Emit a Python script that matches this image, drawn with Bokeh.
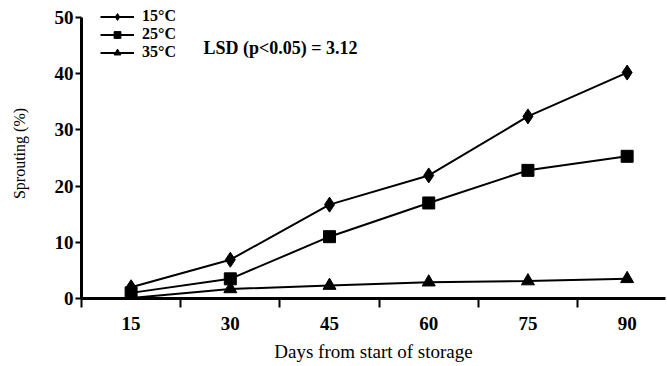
from bokeh.plotting import figure
from bokeh.models import FixedTicker, Range1d, Legend, LegendItem, Label
from bokeh.embed import file_html
from bokeh.resources import INLINE

days = [15, 30, 45, 60, 75, 90]
sprout_15 = [2.0, 6.9, 16.7, 21.9, 32.4, 40.2]
sprout_25 = [1.0, 3.5, 11.0, 17.0, 22.8, 25.3]
sprout_35 = [0.1, 1.7, 2.3, 2.9, 3.1, 3.5]
series_names = ["15°C", "25°C", "35°C"]
y_ticks = [0, 10, 20, 30, 40, 50]
x_boundaries = [7.5, 22.5, 37.5, 52.5, 67.5, 82.5]
lsd_text = "LSD (p<0.05) = 3.12"

FONT = "Liberation Serif"

p = figure(width=667, height=366, output_backend="svg", toolbar_location=None,
           x_range=Range1d(7.5, 95.8), y_range=Range1d(0, 51.6),
           min_border_left=81, min_border_right=2, min_border_top=8, min_border_bottom=68)
p.outline_line_color = None
p.xgrid.visible = False
p.ygrid.visible = False
p.background_fill_color = "white"

r1l = p.line(days, sprout_15, line_color="black", line_width=2)
r1m = p.scatter(days, sprout_15, marker="diamond", size=15, color="black")
r2l = p.line(days, sprout_25, line_color="black", line_width=2)
r2m = p.scatter(days, sprout_25, marker="square", size=12, color="black")
r3l = p.line(days, sprout_35, line_color="black", line_width=2)
r3m = p.scatter(days, sprout_35, marker="triangle", size=13, color="black")

# axes
p.xaxis.ticker = FixedTicker(ticks=days, minor_ticks=x_boundaries)
p.xaxis.major_tick_out = 0
p.xaxis.major_tick_in = 0
p.xaxis.minor_tick_out = 9
p.xaxis.minor_tick_in = 0
p.xaxis.minor_tick_line_width = 2
p.xaxis.minor_tick_line_color = "black"
p.xaxis.axis_line_width = 3
p.xaxis.major_label_standoff = 9
p.xaxis.axis_label = "Days from start of storage"
p.xaxis.axis_label_standoff = 8

p.yaxis.ticker = FixedTicker(ticks=y_ticks, minor_ticks=[])
p.yaxis.bounds = (0, 50)
p.yaxis.major_tick_out = 6
p.yaxis.major_tick_in = 0
p.yaxis.major_tick_line_width = 2
p.yaxis.axis_line_width = 3
p.yaxis.major_label_standoff = 2
p.yaxis.axis_label = "Sprouting (%)"
p.yaxis.axis_label_standoff = 24

for ax in (p.xaxis[0], p.yaxis[0]):
    ax.axis_line_color = "black"
    ax.major_tick_line_color = "black"
    ax.major_label_text_font = FONT
    ax.major_label_text_font_style = "bold"
    ax.major_label_text_font_size = "19px"
    ax.major_label_text_color = "black"
    ax.axis_label_text_font = FONT
    ax.axis_label_text_font_style = "normal"
    ax.axis_label_text_color = "black"
p.xaxis.axis_label_text_font_size = "19px"
p.yaxis.axis_label_text_font_size = "16px"

legend = Legend(items=[
    LegendItem(label=series_names[0], renderers=[r1l, r1m]),
    LegendItem(label=series_names[1], renderers=[r2l, r2m]),
    LegendItem(label=series_names[2], renderers=[r3l, r3m]),
])
legend.border_line_color = None
legend.background_fill_alpha = 0
legend.label_text_font = FONT
legend.label_text_font_style = "bold"
legend.label_text_font_size = "16px"
legend.label_text_color = "black"
legend.glyph_width = 34
legend.glyph_height = 17
legend.label_height = 17
legend.label_standoff = 8
legend.spacing = 0
legend.padding = 0
legend.margin = 0
legend.location = (19, 237)
p.add_layout(legend)

p.add_layout(Label(x=122, y=251, x_units="screen", y_units="screen", text=lsd_text,
                   text_font=FONT, text_font_style="bold", text_font_size="18px",
                   text_color="black", text_baseline="middle"))

open("out.html", "w").write(file_html(p, INLINE))
